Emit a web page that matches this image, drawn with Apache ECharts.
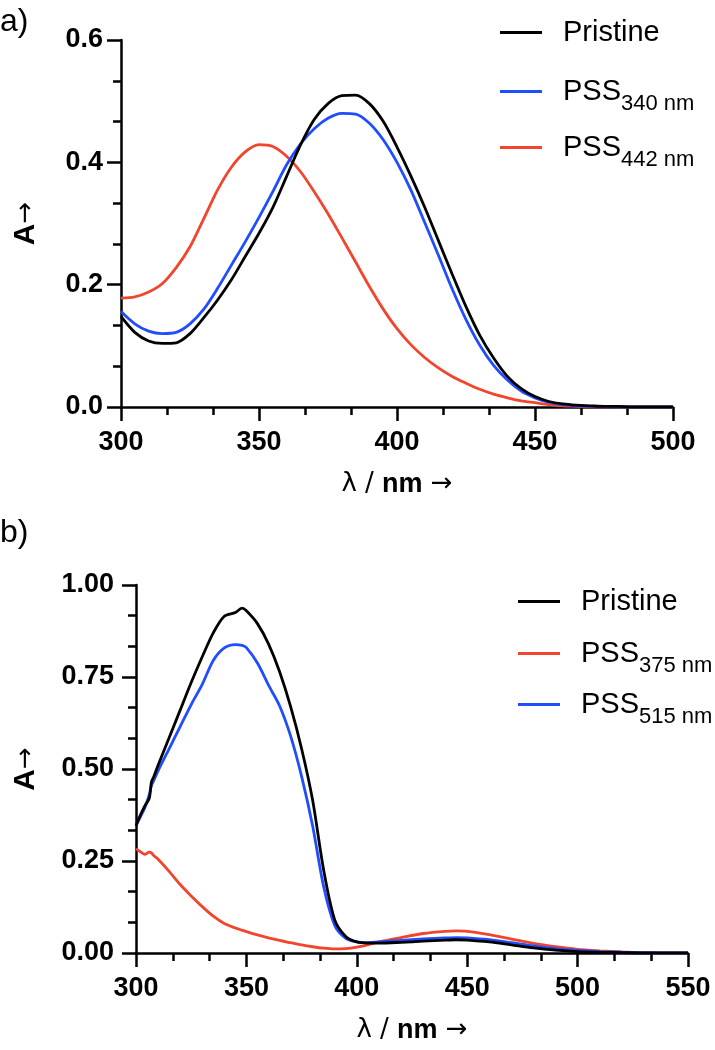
<!DOCTYPE html>
<html>
<head>
<meta charset="utf-8">
<script src="https://cdn.jsdelivr.net/npm/echarts@6/dist/echarts.min.js"></script>
<style>
  html, body { margin: 0; padding: 0; background: #fff; }
  #chart { width: 715px; height: 1050px; }
</style>
</head>
<body>
<div id="chart"></div>
<script>
// ---- panel a) ----
const wlA = [300, 305, 310, 315, 320, 325, 330, 335, 340, 345, 350, 355, 360, 365, 370, 375, 380, 385, 390, 395,
             400, 405, 410, 415, 420, 425, 430, 435, 440, 445, 450, 455, 460, 465, 470, 475, 480, 485, 490, 495, 500];
const pristineA = [0.148, 0.122, 0.108, 0.104, 0.105, 0.120, 0.146, 0.175, 0.208, 0.246, 0.284, 0.326, 0.377, 0.428, 0.470, 0.496, 0.509, 0.510, 0.496, 0.467,
                   0.425, 0.378, 0.327, 0.272, 0.217, 0.164, 0.117, 0.080, 0.050, 0.030, 0.017, 0.009, 0.005, 0.003, 0.002, 0.001, 0.001, 0, 0, 0, 0];
const pss340A = [0.156, 0.136, 0.124, 0.120, 0.122, 0.136, 0.160, 0.194, 0.232, 0.270, 0.310, 0.352, 0.396, 0.430, 0.455, 0.472, 0.480, 0.479, 0.464, 0.437,
                 0.400, 0.355, 0.302, 0.248, 0.193, 0.143, 0.101, 0.068, 0.044, 0.026, 0.015, 0.008, 0.004, 0.002, 0.001, 0.001, 0, 0, 0, 0, 0];
const pss442A = [0.178, 0.180, 0.188, 0.202, 0.228, 0.262, 0.308, 0.355, 0.392, 0.417, 0.429, 0.426, 0.410, 0.385, 0.352, 0.316, 0.277, 0.237, 0.197, 0.160,
                 0.128, 0.102, 0.081, 0.064, 0.050, 0.039, 0.029, 0.021, 0.015, 0.010, 0.007, 0.004, 0.002, 0.001, 0, 0, 0, 0, 0, 0, 0];

// ---- panel b) ----
const wlB = [300, 302, 304, 306, 307, 308, 310, 315, 320, 325, 330, 335, 340, 345, 348, 350, 355, 360, 365, 370, 375,
             380, 385, 390, 395, 400, 405, 410, 420, 430, 440, 445, 450, 460, 470, 480, 490, 500, 510, 520, 530, 540, 550];
const pristineB = [0.346, 0.375, 0.400, 0.420, 0.465, 0.478, 0.510, 0.585, 0.660, 0.735, 0.805, 0.870, 0.915, 0.925, 0.937, 0.930, 0.895, 0.840, 0.765, 0.670, 0.555,
                   0.415, 0.225, 0.090, 0.045, 0.030, 0.027, 0.027, 0.029, 0.032, 0.035, 0.036, 0.035, 0.030, 0.022, 0.014, 0.008, 0.004, 0.002, 0.001, 0, 0, 0];
const pss375B = [0.283, 0.275, 0.268, 0.274, 0.272, 0.265, 0.255, 0.222, 0.186, 0.155, 0.126, 0.100, 0.080, 0.068, 0.062, 0.058, 0.049, 0.041, 0.034, 0.028, 0.022,
                 0.017, 0.013, 0.011, 0.012, 0.016, 0.022, 0.030, 0.042, 0.053, 0.059, 0.060, 0.059, 0.050, 0.038, 0.026, 0.017, 0.010, 0.006, 0.003, 0.001, 0, 0];
const pss515B = [0.346, 0.370, 0.395, 0.430, 0.455, 0.468, 0.495, 0.555, 0.615, 0.675, 0.730, 0.795, 0.829, 0.838, 0.836, 0.830, 0.788, 0.728, 0.672, 0.590, 0.480,
                 0.345, 0.180, 0.075, 0.040, 0.030, 0.028, 0.030, 0.034, 0.038, 0.041, 0.042, 0.041, 0.036, 0.028, 0.019, 0.012, 0.007, 0.004, 0.002, 0.001, 0, 0];

const BLACK = '#000000';
const BLUE = '#1f4dff';
const RED = '#f2452e';
const FONT = 'Liberation Sans';

const pairs = (xs, ys) => xs.map((x, i) => [x, ys[i]]);

function xAxisFor(gridIndex, max) {
    return {
        type: 'value', gridIndex, min: 300, max, interval: 50,
        name: '{n|λ / }{b|nm}{n| →}',
        nameLocation: 'middle', nameGap: 64,
        nameTextStyle: {
            rich: {
                n: { fontSize: 26, fontFamily: 'DejaVu Sans', color: '#000' },
                b: { fontSize: 27, fontFamily: FONT, fontWeight: 'bold', color: '#000' }
            }
        },
        axisLine: { lineStyle: { color: BLACK, width: 2.5 } },
        axisTick: { length: 14, lineStyle: { color: BLACK, width: 2.5 } },
        minorTick: { show: true, splitNumber: 3, length: 8, lineStyle: { color: BLACK, width: 2.5 } },
        splitLine: { show: false },
        axisLabel: { fontSize: 27, fontWeight: 'bold', fontFamily: FONT, color: '#000', margin: 22 }
    };
}

function yAxisFor(gridIndex, max, interval, digits, gap, margin) {
    return {
        type: 'value', gridIndex, min: 0, max, interval,
        name: '{a|A}{r|→}',
        nameLocation: 'middle', nameRotate: 90, nameGap: gap,
        nameTextStyle: {
            rich: {
                a: { fontSize: 30, fontFamily: FONT, fontWeight: 'bold', color: '#000' },
                r: { fontSize: 26, fontFamily: 'DejaVu Sans', color: '#000' }
            }
        },
        axisLine: { show: true, lineStyle: { color: BLACK, width: 2.5 } },
        axisTick: { show: true, length: 14, lineStyle: { color: BLACK, width: 2.5 } },
        minorTick: { show: true, splitNumber: 3, length: 8, lineStyle: { color: BLACK, width: 2.5 } },
        splitLine: { show: false },
        axisLabel: { fontSize: 27, fontWeight: 'bold', fontFamily: FONT, color: '#000', margin,
                     formatter: v => v.toFixed(digits) }
    };
}

function line(name, xs, ys, color, idx) {
    return {
        name, type: 'line', xAxisIndex: idx, yAxisIndex: idx,
        data: pairs(xs, ys), symbol: 'none', smooth: 0.3,
        lineStyle: { color, width: 2.8 }, itemStyle: { color },
        z: color === BLACK ? 3 : 2
    };
}

// one legend box per entry, so each row sits where it does in the figure
function legendRow(name, left, rowY) {
    return {
        data: [name], left, top: rowY - 14, padding: 0,
        icon: 'rect', itemWidth: 42, itemHeight: 3,
        formatter: n => n === 'Pristine' ? '{m|Pristine}' : '{m|PSS}{s|' + n.slice(3) + '}',
        textStyle: {
            padding: [0, 0, 0, 16],
            rich: {
                m: { fontSize: 29, fontFamily: FONT, color: '#000', lineHeight: 46, verticalAlign: 'middle' },
                s: { fontSize: 22, fontFamily: FONT, color: '#000', lineHeight: 24, verticalAlign: 'bottom' }
            }
        }
    };
}

const chart = echarts.init(document.getElementById('chart'));
chart.setOption({
    animation: false,
    backgroundColor: '#fff',
    grid: [
        { left: 121, top: 40, width: 552, height: 367 },
        { left: 136, top: 585, width: 552, height: 368 }
    ],
    xAxis: [xAxisFor(0, 500), xAxisFor(1, 550)],
    yAxis: [yAxisFor(0, 0.6, 0.2, 1, 80, 18), yAxisFor(1, 1.0, 0.25, 2, 95, 22)],
    legend: [
        legendRow('Pristine', 500, 32),
        legendRow('PSS340 nm', 500, 91),
        legendRow('PSS442 nm', 500, 147),
        legendRow('Pristine', 518, 601),
        legendRow('PSS375 nm', 518, 653),
        legendRow('PSS515 nm', 518, 704)
    ],
    graphic: [
        { type: 'text', left: 0, top: 6, style: { text: 'a)', fontSize: 32, fontFamily: FONT, fill: '#000' } },
        { type: 'text', left: 0, top: 517, style: { text: 'b)', fontSize: 32, fontFamily: FONT, fill: '#000' } }
    ],
    series: [
        line('PSS442 nm', wlA, pss442A, RED, 0),
        line('PSS340 nm', wlA, pss340A, BLUE, 0),
        line('Pristine', wlA, pristineA, BLACK, 0),
        line('PSS375 nm', wlB, pss375B, RED, 1),
        line('PSS515 nm', wlB, pss515B, BLUE, 1),
        line('Pristine', wlB, pristineB, BLACK, 1)
    ]
});
</script>
</body>
</html>
